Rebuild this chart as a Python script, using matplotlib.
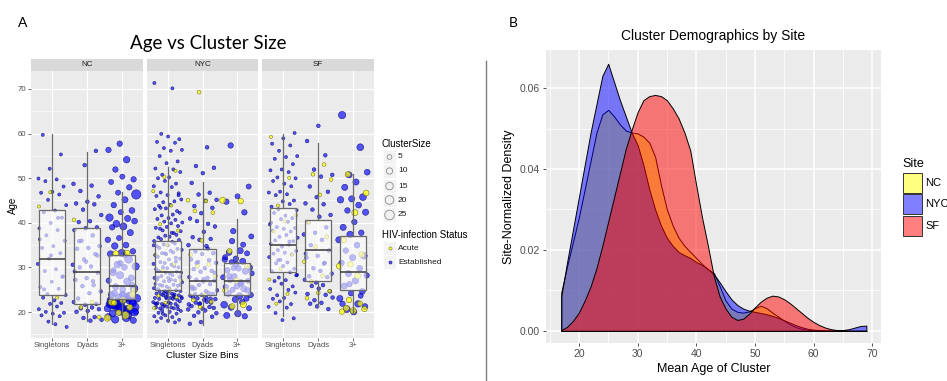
import matplotlib
matplotlib.use("Agg")
import matplotlib.pyplot as plt
from matplotlib.patches import Rectangle
import numpy as np

# ---------------- DATA ----------------
sites = ["NC", "NYC", "SF"]
bins = ["Singletons", "Dyads", "3+"]

# Panel A: ages of individuals (established / acute), per site and bin
nc_single_est = [60, 55, 52, 50, 50, 49, 48, 47, 47, 46, 45, 44, 43, 42, 41, 40, 39, 38, 37, 36, 35, 34, 33, 32,
                 31, 30, 29, 28, 27, 26, 25, 24, 24, 23, 23, 22, 22, 21, 21, 20, 20, 20, 19, 19, 18, 17, 17,
                 25, 28, 33, 36, 41]
nc_single_acu = [47, 44, 23]
nc_dyad_est = [56, 53, 49, 48, 47, 46, 45, 44, 44, 43, 42, 40, 40, 39, 39, 38, 37, 36, 35, 34, 34, 33, 32, 31,
               30, 30, 29, 28, 27, 26, 26, 25, 24, 23, 22, 22, 22, 21, 21, 21, 20, 20, 19, 19, 18, 18,
               36, 33, 31, 29, 27]
nc_dyad_acu = [41, 22, 21, 19]
nc_big_est = [58, 56, 54, 52, 50, 50, 49, 48, 47, 46, 45, 44, 43, 42, 41, 41, 40, 40, 39, 39, 38, 37, 36, 35,
              35, 34, 33, 33, 32, 31, 30, 30, 29, 28, 28, 27, 27, 26, 25, 25, 24, 24, 23, 23, 23, 22, 22, 22,
              22, 21, 21, 21, 21, 20, 20, 20, 19, 19, 18, 18, 24, 23, 22, 21, 20, 33, 29, 26, 31, 22, 23, 21,
              20, 24, 22, 23, 22, 21, 20, 24, 22, 21, 23, 19, 22]
nc_big_est_size = [6, 6, 9, 6, 6, 5, 5, 6, 5, 20, 8, 6, 7, 5, 12, 8, 10, 7, 11, 6, 8, 5, 6, 7,
                   9, 6, 12, 8, 14, 10, 12, 7, 9, 8, 12, 6, 10, 8, 14, 7, 9, 12, 10, 14, 8, 16, 10, 12,
                   7, 12, 9, 15, 6, 10, 8, 12, 9, 14, 12, 8, 6, 6, 5, 5, 5, 5, 5, 5, 6, 9, 11, 11,
                   14, 10, 14, 12, 18, 10, 16, 8, 12, 14, 9, 10, 8]
nc_big_acu = [33, 33, 25, 23, 22, 21, 20, 19, 19, 22, 24]
nc_big_acu_size = [6, 8, 6, 8, 10, 7, 6, 9, 12, 6, 7]

nyc_single_est = [71, 70, 60, 59, 59, 58, 58, 57, 56, 56, 55, 54, 53, 52, 52, 51, 51, 50, 50, 49, 49, 48, 48,
                  47, 47, 46, 46, 45, 45, 45, 44, 44, 43, 43, 43, 42, 42, 42, 41, 41, 41, 40, 40, 40, 39, 39,
                  39, 39, 38, 38, 38, 37, 37, 37, 37, 36, 36, 36, 36, 35, 35, 35, 35, 34, 34, 34, 34, 33, 33,
                  33, 33, 32, 32, 32, 32, 31, 31, 31, 31, 30, 30, 30, 30, 30, 29, 29, 29, 29, 29, 28, 28, 28,
                  28, 28, 27, 27, 27, 27, 27, 26, 26, 26, 26, 26, 26, 25, 25, 25, 25, 25, 25, 24, 24, 24, 24,
                  24, 24, 24, 23, 23, 23, 23, 23, 23, 23, 22, 22, 22, 22, 22, 22, 22, 21, 21, 21, 21, 21, 21,
                  20, 20, 20, 20, 20, 19, 19, 19, 19, 18, 18, 18, 18, 24, 23, 22, 25, 21, 23, 22, 24, 20, 26,
                  27, 28, 31, 33, 35, 38, 43, 46, 24, 22, 23, 21]
nyc_single_acu = [52, 50, 47, 44, 40, 38, 35, 33, 31, 29, 27, 25, 24, 23, 22, 21]
nyc_dyad_est = [57, 53, 52, 51, 49, 47, 46, 45, 45, 44, 43, 42, 41, 40, 40, 39, 38, 37, 36, 36, 35, 35, 34, 33,
                33, 32, 32, 31, 31, 30, 30, 29, 29, 28, 28, 27, 27, 27, 26, 26, 26, 25, 25, 25, 24, 24, 24,
                24, 23, 23, 23, 23, 22, 22, 22, 22, 22, 21, 21, 21, 21, 20, 20, 20, 19, 19, 18, 17, 34, 31,
                29, 27, 25, 23, 22, 21, 23, 24]
nyc_dyad_acu = [69, 45, 45, 43, 42, 36, 33, 31, 30, 28, 24, 23, 22, 21]
nyc_big_est = [57, 48, 46, 45, 42, 38, 37, 34, 33, 33, 32, 32, 31, 31, 30, 30, 29, 29, 28, 28, 27, 27, 27, 26,
               26, 25, 25, 24, 24, 24, 23, 23, 22, 22, 21, 21, 20, 19, 19, 30, 29, 26, 28, 25, 31, 32, 35, 36]
nyc_big_est_size = [6, 5, 5, 6, 6, 6, 5, 8, 7, 5, 6, 6, 8, 5, 7, 6, 6, 9, 7, 5, 8, 6, 5, 7,
                    6, 8, 5, 6, 9, 7, 6, 8, 10, 6, 7, 5, 9, 8, 6, 5, 5, 5, 6, 6, 6, 5, 5, 6]
nyc_big_acu = [45, 45, 34, 30, 27, 25, 22, 21]
nyc_big_acu_size = [8, 6, 5, 6, 6, 5, 8, 6]

sf_single_est = [60, 59, 58, 57, 56, 55, 55, 54, 53, 52, 52, 51, 50, 50, 49, 49, 48, 47, 47, 46, 46, 45, 45,
                 44, 44, 43, 43, 42, 42, 41, 41, 40, 40, 39, 39, 39, 38, 38, 37, 37, 37, 36, 36, 35, 35, 35,
                 34, 34, 33, 33, 33, 32, 32, 31, 31, 30, 30, 29, 29, 28, 28, 27, 27, 26, 26, 25, 25, 24, 24,
                 23, 23, 22, 22, 21, 21, 20, 19, 18, 40, 36, 32, 28]
sf_single_acu = [59, 50, 44, 42, 40, 38, 33, 30, 27, 24, 22]
sf_dyad_est = [62, 58, 55, 52, 51, 50, 48, 47, 46, 44, 44, 43, 42, 41, 40, 39, 38, 37, 36, 35, 34, 33, 32, 31,
               30, 29, 29, 28, 28, 27, 27, 26, 26, 25, 25, 24, 24, 23, 23, 22, 22, 21, 21, 33, 31]
sf_dyad_acu = [53, 51, 50, 46, 40, 37, 35, 31, 28, 27, 25, 24, 23]
sf_big_est = [64, 57, 51, 51, 49, 48, 46, 45, 45, 44, 43, 42, 40, 39, 38, 37, 36, 35, 34, 33, 32, 31, 30, 29,
              28, 27, 26, 25, 24, 23, 22, 21, 21, 20, 22, 24, 26]
sf_big_est_size = [12, 10, 8, 7, 8, 8, 10, 8, 9, 7, 6, 8, 6, 8, 6, 9, 8, 7, 6, 9, 8, 6, 7, 8,
                   6, 9, 8, 7, 6, 8, 9, 10, 7, 8, 6, 5, 6]
sf_big_acu = [51, 47, 42, 36, 33, 31, 30, 28, 21, 21, 20, 20, 22, 23]
sf_big_acu_size = [6, 7, 8, 6, 7, 6, 7, 7, 7, 6, 8, 6, 5, 6]

# Boxplot summaries: (whisker low, q1, median, q3, whisker high)
box_stats = {
    "NC":  [(17.4, 23.9, 32.0, 42.8, 59.8), (18.1, 21.9, 29.0, 38.8, 55.9), (18.5, 23.0, 25.9, 32.7, 47.0)],
    "NYC": [(17.8, 24.9, 29.0, 36.0, 52.6), (17.0, 23.9, 27.0, 34.1, 49.2), (19.2, 23.9, 27.0, 30.9, 40.8)],
    "SF":  [(19.2, 29.0, 35.0, 43.4, 59.8), (21.1, 27.0, 34.0, 40.6, 57.8), (20.0, 24.9, 29.0, 37.1, 50.9)],
}
legend_sizes = [5, 10, 15, 20, 25]
status_labels = ["Acute", "Established"]

# Panel B: site-normalized density of mean cluster age
age_grid = list(range(17, 70))
dens_nc = [0.0095, 0.016, 0.022, 0.028, 0.035, 0.042, 0.049, 0.0535, 0.0546, 0.053, 0.051, 0.0495, 0.049,
           0.0488, 0.048, 0.0465, 0.043, 0.036, 0.030, 0.026, 0.023, 0.021, 0.0195, 0.018, 0.0165, 0.0152,
           0.0143, 0.011, 0.0075, 0.0055, 0.0047, 0.0045, 0.0048, 0.0056, 0.0062, 0.0056, 0.0045, 0.0035,
           0.0025, 0.0016, 0.0009, 0.0005, 0.0003, 0.0002, 0.0001, 0.0001, 0.0, 0.0, 0.0, 0.0, 0.0, 0.0, 0.0]
dens_nyc = [0.0085, 0.017, 0.025, 0.033, 0.041, 0.049, 0.056, 0.063, 0.066, 0.0615, 0.057, 0.053, 0.049,
            0.046, 0.041, 0.035, 0.030, 0.026, 0.023, 0.021, 0.0195, 0.0187, 0.018, 0.017, 0.0163, 0.0153,
            0.014, 0.012, 0.0098, 0.0078, 0.0064, 0.0055, 0.005, 0.0047, 0.0044, 0.0041, 0.0037, 0.0032,
            0.0026, 0.002, 0.0014, 0.0009, 0.0005, 0.0003, 0.0002, 0.0001, 0.0001, 0.0001, 0.0002, 0.0004,
            0.0008, 0.0012, 0.0013]
dens_sf = [0.0002, 0.001, 0.0025, 0.0045, 0.0075, 0.011, 0.0155, 0.021, 0.027, 0.033, 0.039, 0.045, 0.0497,
           0.054, 0.057, 0.058, 0.0583, 0.058, 0.057, 0.055, 0.0525, 0.049, 0.0445, 0.036, 0.028, 0.021,
           0.0135, 0.0085, 0.0055, 0.0035, 0.0027, 0.003, 0.0042, 0.0058, 0.0072, 0.0082, 0.0087, 0.0085,
           0.0078, 0.0068, 0.0056, 0.0044, 0.0032, 0.0022, 0.0014, 0.0008, 0.0004, 0.0002, 0.0001, 0.0,
           0.0, 0.0, 0.0]

# ---------------- STYLE ----------------
FONT = ["Liberation Sans", "DejaVu Sans"]
TITLEFONT = ["Lato", "Liberation Sans", "DejaVu Sans"]
plt.rcParams["font.family"] = FONT
BG = "#ebebeb"
TICKC = "#4d4d4d"
site_colors = {"NC": "#ffff00", "NYC": "#0000ff", "SF": "#ff0000"}


def size_to_s(v):
    return 2.1 * v + 3.0


fig = plt.figure(figsize=(9.47, 3.81), dpi=100)
W, H = 947.0, 381.0


def px_axes(x0, y0, x1, y1):
    return fig.add_axes([x0 / W, 1 - y1 / H, (x1 - x0) / W, (y1 - y0) / H])


groups = {
    "NC": [(nc_single_est, None, nc_single_acu, None),
           (nc_dyad_est, None, nc_dyad_acu, None),
           (nc_big_est, nc_big_est_size, nc_big_acu, nc_big_acu_size)],
    "NYC": [(nyc_single_est, None, nyc_single_acu, None),
            (nyc_dyad_est, None, nyc_dyad_acu, None),
            (nyc_big_est, nyc_big_est_size, nyc_big_acu, nyc_big_acu_size)],
    "SF": [(sf_single_est, None, sf_single_acu, None),
           (sf_dyad_est, None, sf_dyad_acu, None),
           (sf_big_est, sf_big_est_size, sf_big_acu, sf_big_acu_size)],
}

facet_x = {"NC": (31, 143), "NYC": (147, 258), "SF": (262, 374)}
golden = 0.6180339887
silver = 0.7548776662


def jitter(n, phase, frac, width):
    # deterministic spread, like geom_jitter (presentation only)
    return (((np.arange(n) + phase) * frac) % 1.0 - 0.5) * width


for si, site in enumerate(sites):
    x0, x1 = facet_x[site]
    ax = px_axes(x0, 71, x1, 338)
    ax.set_facecolor(BG)
    for sp in ax.spines.values():
        sp.set_visible(False)
    ax.set_xlim(-0.6, 2.6)
    ax.set_ylim(14.2, 74)
    ax.set_yticks([20, 30, 40, 50, 60, 70])
    ax.set_yticks([15, 25, 35, 45, 55, 65], minor=True)
    ax.set_xticks([0, 1, 2])
    ax.set_xticklabels(bins)
    ax.grid(True, which="major", color="white", lw=0.9)
    ax.grid(True, which="minor", color="white", lw=0.45)
    ax.set_axisbelow(True)
    ax.tick_params(axis="both", which="major", length=2, width=0.5, color="#333333",
                   labelsize=5.6, labelcolor=TICKC, pad=1.2)
    ax.tick_params(axis="both", which="minor", length=0)
    if si > 0:
        ax.tick_params(axis="y", labelleft=False, length=0)
    for b in range(3):
        est, est_sz, acu, acu_sz = groups[site][b]
        base = 1 if b == 0 else 2
        es = [size_to_s(v) for v in (est_sz if est_sz else [base] * len(est))]
        as_ = [size_to_s(v) for v in (acu_sz if acu_sz else [base] * len(acu))]
        jx = b + jitter(len(est), 3 * si + b + 0.3, golden, 0.84)
        jy = np.asarray(est, float) + jitter(len(est), si + 2 * b + 0.17, silver, 0.8)
        ax.scatter(jx, jy, s=es, facecolor=(0, 0, 1, 0.65), edgecolor=(0, 0, 0.4, 0.9),
                   linewidth=0.35, zorder=2)
        ja = b + jitter(len(acu), 7 * si + b + 0.71, golden, 0.84)
        jya = np.asarray(acu, float) + jitter(len(acu), si + b + 0.41, silver, 0.8)
        ax.scatter(ja, jya, s=as_, facecolor=(1, 1, 0, 0.7), edgecolor=(0.35, 0.35, 0, 0.9),
                   linewidth=0.35, zorder=2.1)
    stats = []
    for (lo, q1, med, q3, hi) in box_stats[site]:
        stats.append(dict(whislo=lo, q1=q1, med=med, q3=q3, whishi=hi, fliers=[]))
    ax.bxp(stats, positions=[0, 1, 2], widths=0.75, patch_artist=True, showcaps=False,
           boxprops=dict(facecolor=(1, 1, 1, 0.6), edgecolor="#6a6a6a", linewidth=0.9),
           whiskerprops=dict(color="#6a6a6a", linewidth=0.9),
           medianprops=dict(color="#3a3a3a", linewidth=1.1), manage_ticks=False, zorder=3)
    # strip
    sax = px_axes(x0, 59, x1, 71)
    sax.set_facecolor("#d9d9d9")
    sax.set_xticks([])
    sax.set_yticks([])
    for sp in sax.spines.values():
        sp.set_visible(False)
    sax.text(0.5, 0.5, site, ha="center", va="center", fontsize=5.8, color="#1a1a1a",
             transform=sax.transAxes)

# ---------------- PANEL B ----------------
bx = px_axes(546, 50, 881, 343)
bx.set_facecolor(BG)
for sp in bx.spines.values():
    sp.set_visible(False)
for site, dens in zip(sites, [dens_nc, dens_nyc, dens_sf]):
    c = matplotlib.colors.to_rgb(site_colors[site])
    bx.fill_between(age_grid, 0, dens, facecolor=(*c, 0.5), edgecolor="black", linewidth=0.7, zorder=2)
bx.set_xlim(14.4, 71.5)
bx.set_ylim(-0.003, 0.0694)
bx.set_xticks([20, 30, 40, 50, 60, 70])
bx.set_xticks([15, 25, 35, 45, 55, 65], minor=True)
bx.set_yticks([0.0, 0.02, 0.04, 0.06])
bx.set_yticks([0.01, 0.03, 0.05], minor=True)
bx.set_yticklabels(["0.00", "0.02", "0.04", "0.06"])
bx.grid(True, which="major", color="white", lw=1.1)
bx.grid(True, which="minor", color="white", lw=0.55)
bx.set_axisbelow(True)
bx.tick_params(axis="both", which="major", length=2.5, width=0.6, color="#333333",
               labelsize=7.5, labelcolor=TICKC, pad=2)
bx.tick_params(axis="both", which="minor", length=0)
bx.set_xlabel("Mean Age of Cluster", fontsize=9, labelpad=3)
bx.set_ylabel("Site-Normalized Density", fontsize=9, labelpad=3)
bx.set_title("Cluster Demographics by Site", fontsize=10, pad=7)

# ---------------- OVERLAY (labels, legends, divider) ----------------
ov = fig.add_axes([0, 0, 1, 1], zorder=10)
ov.set_xlim(0, W)
ov.set_ylim(H, 0)
ov.axis("off")
ov.patch.set_visible(False)

ov.text(22.7, 23, "A", fontsize=10, ha="center", va="center", family=TITLEFONT)
ov.text(513, 23, "B", fontsize=10, ha="center", va="center", family=TITLEFONT)
ov.text(208, 44, "Age vs Cluster Size", fontsize=13.5, ha="center", va="center", family=TITLEFONT)
ov.plot([485.7, 485.7], [61, 381], color="#7f7f7f", lw=1.0)

ov.text(202, 355.5, "Cluster Size Bins", fontsize=6.8, ha="center", va="center")
ov.text(13, 205, "Age", fontsize=7, ha="center", va="center", rotation=90)

# legend A: ClusterSize
ov.text(382, 144, "ClusterSize", fontsize=7, ha="left", va="center")
key_y = [157, 171, 186, 200, 215]
for yk, v in zip(key_y, legend_sizes):
    ov.add_patch(Rectangle((383, yk - 7), 13, 14, facecolor="#f2f2f2", edgecolor="white", lw=0.5))
    ov.scatter([389.5], [yk], s=size_to_s(v) * 0.85, facecolor="none", edgecolor="#8a8a8a", linewidth=0.6)
    ov.text(398, yk, str(v), fontsize=6, ha="left", va="center", color="#1a1a1a")
ov.text(382, 235, "HIV-infection Status", fontsize=7, ha="left", va="center")
for yk, lab, fc, ec in zip([248, 262], status_labels,
                           [(1, 1, 0, 0.7), (0, 0, 1, 0.65)], [(0.35, 0.35, 0, 0.9), (0, 0, 0.4, 0.9)]):
    ov.add_patch(Rectangle((383, yk - 7), 13, 14, facecolor="#f2f2f2", edgecolor="white", lw=0.5))
    ov.scatter([389.5], [yk], s=size_to_s(1), facecolor=fc, edgecolor=ec, linewidth=0.35)
    ov.text(398, yk, lab, fontsize=6, ha="left", va="center", color="#1a1a1a")

# legend B: Site
ov.text(902, 164, "Site", fontsize=9, ha="left", va="center")
for i, site in enumerate(sites):
    c = matplotlib.colors.to_rgb(site_colors[site])
    y0 = 173 + i * 21.3
    ov.add_patch(Rectangle((903, y0), 19, 20, facecolor=(*c, 0.5), edgecolor="#333333", lw=0.7))
    ov.text(925, y0 + 10, site, fontsize=8, ha="left", va="center")

fig.savefig("out.png", dpi=100)
